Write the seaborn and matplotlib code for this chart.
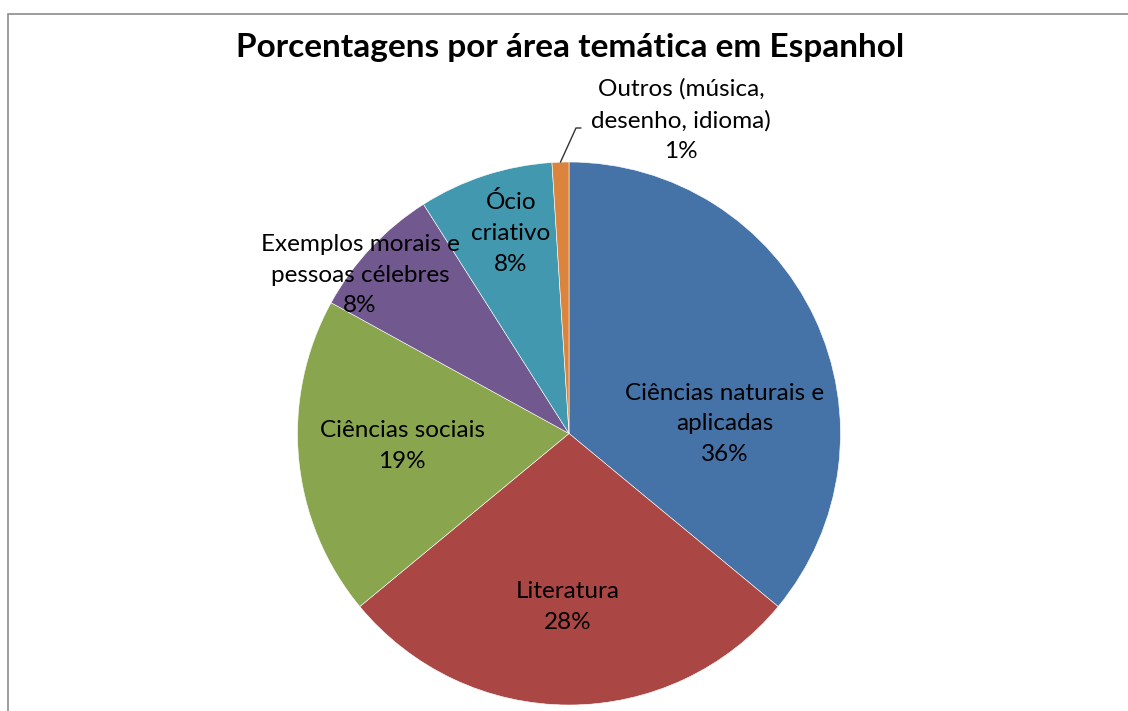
import matplotlib
matplotlib.use("Agg")
import matplotlib.pyplot as plt
import seaborn as sns
import numpy as np
from matplotlib.patches import Rectangle

# ---- data ----
categories = ["Ciências naturais e\naplicadas", "Literatura", "Ciências sociais",
              "Exemplos morais e\npessoas célebres", "Ócio\ncriativo",
              "Outros (música,\ndesenho, idioma)"]
values = [36, 28, 19, 8, 8, 1]
pct_labels = ["36%", "28%", "19%", "8%", "8%", "1%"]
colors = ["#4572A7", "#AA4643", "#89A54E", "#71588F", "#4198AF", "#DB843D"]
title = "Porcentagens por área temática em Espanhol"

sns.set_theme(style="white")
plt.rcParams['font.family'] = ['Lato', 'DejaVu Sans']

W, H = 1128, 711
fig = plt.figure(figsize=(W / 100, H / 100), dpi=100)
fig.patch.set_facecolor("white")

# outer frame (extends beyond right/bottom)
fig.patches.append(Rectangle((7.5 / W, -0.1), 1.2, (H - 13.5) / H + 0.1,
                             transform=fig.transFigure, fill=False,
                             edgecolor="#8c8c8c", linewidth=1.2))

cx, cy, r = 569, 433.5, 271.5
ax = fig.add_axes([(cx - r) / W, (H - cy - r) / H, 2 * r / W, 2 * r / H])

wedges, _ = ax.pie(values, colors=colors, startangle=90, counterclock=False,
                   radius=1, wedgeprops=dict(linewidth=0.4, edgecolor="white"))
ax.set_xlim(-1, 1)
ax.set_ylim(-1, 1)
ax.set_aspect("equal")
ax.axis("off")

def px2d(px, py):
    return ((px - cx) / r, (cy - py) / r)

label_px = [(725, 424), (568, 607), (402, 446), (360, 275), (511, 233), (681, 120)]
for cat, pct, (px, py) in zip(categories, pct_labels, label_px):
    x, y = px2d(px, py)
    ax.text(x, y, cat + "\n" + pct, ha="center", va="center", fontsize=17.5,
            linespacing=1.56, color="black", clip_on=False)

# leader line for the small slice
w = wedges[-1]
mid = np.deg2rad((w.theta1 + w.theta2) / 2)
p0 = (np.cos(mid), np.sin(mid))
p1 = px2d(576, 128)
p2 = px2d(581, 128)
ax.plot([p0[0], p1[0], p2[0]], [p0[1], p1[1], p2[1]], color="#333333",
        linewidth=1.0, clip_on=False)

fig.text(570 / W, 1 - 57 / H, title, ha="center", va="baseline",
         fontsize=24, fontweight="bold", color="black")

fig.savefig("out.png", dpi=100)
